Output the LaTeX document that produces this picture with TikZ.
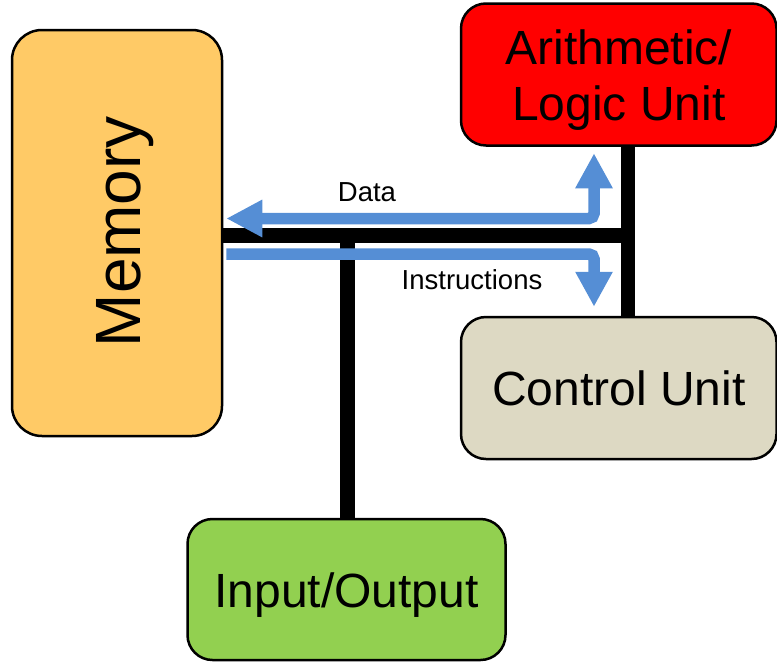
\documentclass[tikz,border=0pt]{standalone}
\usepackage{fontspec}
\setmainfont{Liberation Sans}
\usetikzlibrary{arrows.meta,calc}
\definecolor{memfill}{RGB}{255,202,102}
\definecolor{alufill}{RGB}{255,0,0}
\definecolor{cufill}{RGB}{221,217,195}
\definecolor{iofill}{RGB}{146,208,80}
\definecolor{flowblue}{RGB}{85,142,213}
\begin{document}
\begin{tikzpicture}[x=1pt,y=-1pt,
  unit/.style={draw=black,line width=2.5pt,rounded corners=25pt,inner sep=0pt,
    font=\fontsize{48}{56.7}\selectfont},
  oneline/.style={text height=34.4pt,text depth=0pt},
  bus/.style={draw=black,line width=14.5pt},
  flow/.style={draw=flowblue,line width=11.5pt,rounded corners=5pt},
  lbl/.style={inner sep=0pt,anchor=base,font=\fontsize{27.5}{30}\selectfont}]
\useasboundingbox (0,0) rectangle (777,662);

% units
\node[unit,fill=memfill,rounded corners=30pt,minimum width=210pt,minimum height=406pt] (mem) at (117,233) {};
\node[rotate=90,inner sep=0pt,font=\fontsize{64}{70}\selectfont,text height=45.8pt,text depth=0pt] (memlbl) at (117.5,231.7) {Memory};
\node[unit,fill=alufill,minimum width=315.5pt,minimum height=142pt] (alu) at (618.75,74.5) {};
\node[inner sep=0pt,anchor=base,align=center,font=\fontsize{48}{56.7}\selectfont] (alulbl) at (618.75,120.7) {Arithmetic/\\Logic Unit};
\node[unit,oneline,fill=cufill,minimum width=315.5pt,minimum height=142pt] (cu) at (618.75,388) {Control Unit};
\node[unit,oneline,fill=iofill,minimum width=318pt,minimum height=141pt,text height=36pt] (io) at (346.5,589.5) {Input/Output};

% bus
\coordinate (jR) at (628,235.5);
\coordinate (jIO) at (347.5,235.5);
\draw[bus] (mem.east |- jR) -- (jR);
\draw[bus] (alu.south -| jR) -- (cu.north -| jR);
\draw[bus] (jIO) -- (io.north -| jIO);

% flows
\coordinate (dR) at (594,218.5);
\coordinate (iR) at (594,254);
\draw[flow,{Triangle[length=36pt,width=35pt]}-{Triangle[length=35pt,width=35pt]}]
  ($(mem.east |- dR)+(3,0)$) -- (dR) -- ($(alu.south -| dR)+(0,6.5)$);
\draw[flow,-{Triangle[length=35pt,width=35pt]}]
  ($(mem.east |- iR)+(3,0)$) -- (iR) -- ($(cu.north -| iR)+(0,-9)$);

\node[lbl] (datalbl) at (367,201.7) {Data};
\node[lbl] (instrlbl) at (472,289) {Instructions};
\end{tikzpicture}
\end{document}
